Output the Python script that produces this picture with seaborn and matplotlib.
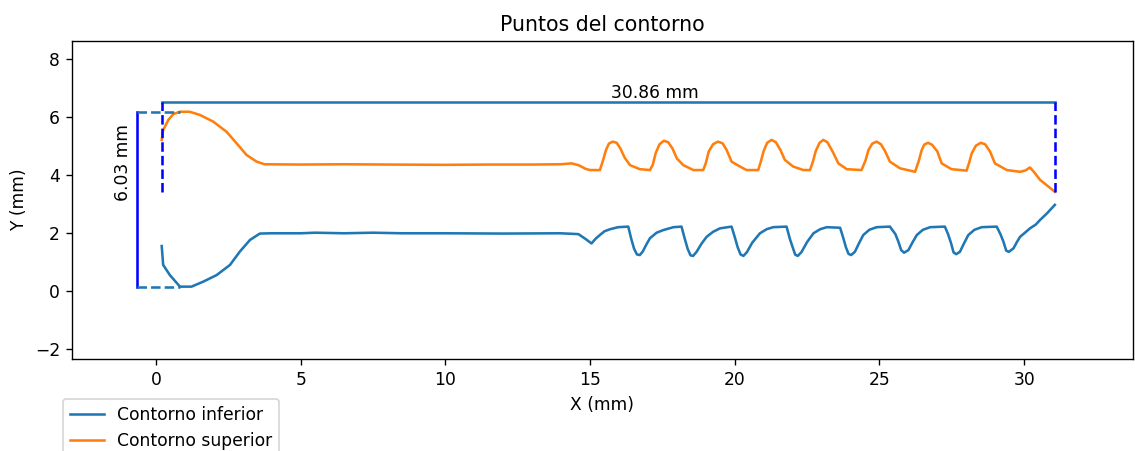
import matplotlib
matplotlib.use("Agg")
import matplotlib.pyplot as plt
import seaborn as sns
import pandas as pd

# ---- data (mm) ----
lower_x = [0.20, 0.25, 0.48, 0.83, 1.23, 1.63, 2.10, 2.56, 2.90, 3.25, 3.59, 4.00, 5.00, 5.50, 6.50, 7.50, 8.50,
           10.00, 12.00, 13.96, 14.42, 14.60, 14.85, 15.05, 15.20, 15.34, 15.50, 15.69, 15.97, 16.32,
           16.42, 16.52, 16.62, 16.72, 16.82, 16.95, 17.07, 17.30, 17.53, 17.88, 18.16,
           18.27, 18.37, 18.47, 18.56, 18.68, 18.85, 19.03, 19.25, 19.49, 19.89,
           20.00, 20.10, 20.20, 20.30, 20.42, 20.60, 20.87, 21.10, 21.33, 21.79,
           21.90, 22.00, 22.09, 22.18, 22.31, 22.50, 22.72, 22.95, 23.18, 23.64,
           23.74, 23.84, 23.93, 24.02, 24.15, 24.30, 24.44, 24.65, 24.90, 25.36,
           25.55, 25.65, 25.75, 25.85, 26.00, 26.15, 26.29, 26.50, 26.75, 27.26,
           27.37, 27.47, 27.56, 27.65, 27.78, 27.93, 28.07, 28.28, 28.53, 29.05,
           29.18, 29.28, 29.38, 29.47, 29.63, 29.75, 29.86, 30.05, 30.20, 30.40, 30.55, 30.80, 31.06]
lower_y = [1.54, 0.89, 0.54, 0.14, 0.14, 0.31, 0.54, 0.89, 1.35, 1.75, 1.97, 1.98, 1.98, 2.00, 1.98, 2.00, 1.98,
           1.98, 1.97, 1.98, 1.96, 1.95, 1.78, 1.63, 1.80, 1.92, 2.05, 2.12, 2.19, 2.21,
           1.80, 1.45, 1.25, 1.23, 1.35, 1.60, 1.81, 2.00, 2.09, 2.19, 2.21,
           1.80, 1.45, 1.22, 1.20, 1.34, 1.62, 1.86, 2.03, 2.15, 2.21,
           1.85, 1.50, 1.25, 1.20, 1.33, 1.65, 1.98, 2.12, 2.19, 2.21,
           1.80, 1.50, 1.24, 1.20, 1.34, 1.68, 1.98, 2.12, 2.19, 2.17,
           1.85, 1.50, 1.27, 1.23, 1.34, 1.65, 1.92, 2.10, 2.19, 2.21,
           1.95, 1.70, 1.40, 1.31, 1.40, 1.68, 1.92, 2.10, 2.19, 2.21,
           1.95, 1.65, 1.32, 1.26, 1.34, 1.65, 1.92, 2.10, 2.19, 2.21,
           1.95, 1.70, 1.38, 1.34, 1.46, 1.68, 1.86, 2.02, 2.15, 2.28, 2.44, 2.68, 2.96]

upper_x = [0.20, 0.25, 0.43, 0.60, 0.83, 1.17, 1.52, 1.98, 2.44, 2.79, 3.13, 3.48, 3.75, 5.00, 6.50, 8.00,
           10.00, 11.50, 13.00, 14.00, 14.36, 14.60, 14.85, 15.00, 15.34,
           15.45, 15.55, 15.65, 15.78, 15.92, 16.05, 16.20, 16.38, 16.72, 17.07,
           17.17, 17.27, 17.40, 17.55, 17.70, 17.85, 18.00, 18.22, 18.57, 18.91,
           19.00, 19.10, 19.25, 19.42, 19.58, 19.72, 19.89, 20.18, 20.41, 20.81,
           20.90, 21.00, 21.12, 21.27, 21.42, 21.58, 21.73, 22.02, 22.37, 22.60,
           22.70, 22.80, 22.93, 23.06, 23.20, 23.38, 23.58, 23.87, 24.38,
           24.52, 24.62, 24.75, 24.90, 25.05, 25.20, 25.36, 25.71, 26.23,
           26.35, 26.46, 26.55, 26.68, 26.82, 27.00, 27.15, 27.49, 28.01,
           28.10, 28.19, 28.33, 28.50, 28.65, 28.82, 28.99, 29.40, 29.86, 30.05, 30.20, 30.35, 30.55, 30.80, 31.06]
upper_y = [5.20, 5.54, 5.89, 6.09, 6.17, 6.17, 6.06, 5.83, 5.48, 5.08, 4.68, 4.45, 4.36, 4.35, 4.36, 4.35,
           4.34, 4.35, 4.35, 4.36, 4.39, 4.33, 4.20, 4.16, 4.16,
           4.50, 4.85, 5.07, 5.14, 5.10, 4.90, 4.58, 4.33, 4.19, 4.16,
           4.35, 4.75, 5.05, 5.17, 5.12, 4.90, 4.56, 4.33, 4.16, 4.16,
           4.40, 4.80, 5.05, 5.14, 5.08, 4.85, 4.45, 4.28, 4.16, 4.16,
           4.45, 4.82, 5.10, 5.20, 5.12, 4.85, 4.51, 4.28, 4.16, 4.16,
           4.45, 4.82, 5.10, 5.20, 5.12, 4.80, 4.39, 4.19, 4.16,
           4.50, 4.85, 5.07, 5.14, 5.05, 4.80, 4.45, 4.22, 4.10,
           4.45, 4.85, 5.04, 5.10, 5.03, 4.80, 4.39, 4.19, 4.14,
           4.42, 4.74, 5.00, 5.10, 5.05, 4.80, 4.39, 4.16, 4.10, 4.15, 4.25, 4.08, 3.82, 3.62, 3.41]

series_labels = ["Contorno inferior", "Contorno superior"]
title = "Puntos del contorno"
x_label = "X (mm)"
y_label = "Y (mm)"

# ---- figure ----
DPI = 123
fig = plt.figure(figsize=(1135 / DPI, 451 / DPI), dpi=DPI)
ax = fig.add_axes([72 / 1135, 92 / 451, 1061 / 1135, 318 / 451])

df_low = pd.DataFrame({"x": lower_x, "y": lower_y})
df_up = pd.DataFrame({"x": upper_x, "y": upper_y})
sns.lineplot(data=df_low, x="x", y="y", sort=False, estimator=None, color="C0",
             label=series_labels[0], ax=ax, linewidth=1.5)
sns.lineplot(data=df_up, x="x", y="y", sort=False, estimator=None, color="C1",
             label=series_labels[1], ax=ax, linewidth=1.5)

# ---- dimensions ----
x_min, x_max = min(lower_x + upper_x), max(lower_x + upper_x)
y_min, y_max = min(lower_y), max(upper_y)
x_at_min = lower_x[lower_y.index(y_min)]
x_at_max = upper_x[upper_y.index(y_max)]
y_end = upper_y[-1]
dim_top = 6.52
dim_left = -0.67

# horizontal (length) dimension
ax.plot([x_min, x_max], [dim_top, dim_top], color="C0", linewidth=1.5)
ax.plot([x_min, x_min], [y_end, dim_top], "b--", linewidth=1.5)
ax.plot([x_max, x_max], [y_end, dim_top], "b--", linewidth=1.5)
ax.text(17.24, dim_top, f"{x_max - x_min:.2f} mm", ha="center", va="bottom", fontsize=10)

# vertical (height) dimension
ax.plot([dim_left, dim_left], [y_min, y_max], "b-", linewidth=1.5)
ax.plot([dim_left, x_at_min], [y_min, y_min], "--", color="C0", linewidth=1.5)
ax.plot([dim_left, x_at_max], [y_max, y_max], "--", color="C0", linewidth=1.5)
ax.text(-0.84, 3.08, f"{y_max - y_min:.2f} mm", rotation=90, ha="right", va="bottom", fontsize=10)

ax.set_xlim(-2.90, 33.76)
ax.set_ylim(-2.355, 8.61)
ax.set_xticks([0, 5, 10, 15, 20, 25, 30])
ax.set_yticks([-2, 0, 2, 4, 6, 8])
ax.set_title(title, fontsize=12)
ax.set_xlabel(x_label, fontsize=10)
ax.set_ylabel(y_label, fontsize=10)

ax.legend(loc="upper left", bbox_to_anchor=(62.7 / 1135, 52 / 451),
          bbox_transform=fig.transFigure, borderaxespad=0, fontsize=10)

fig.savefig("out.png", dpi=DPI)
